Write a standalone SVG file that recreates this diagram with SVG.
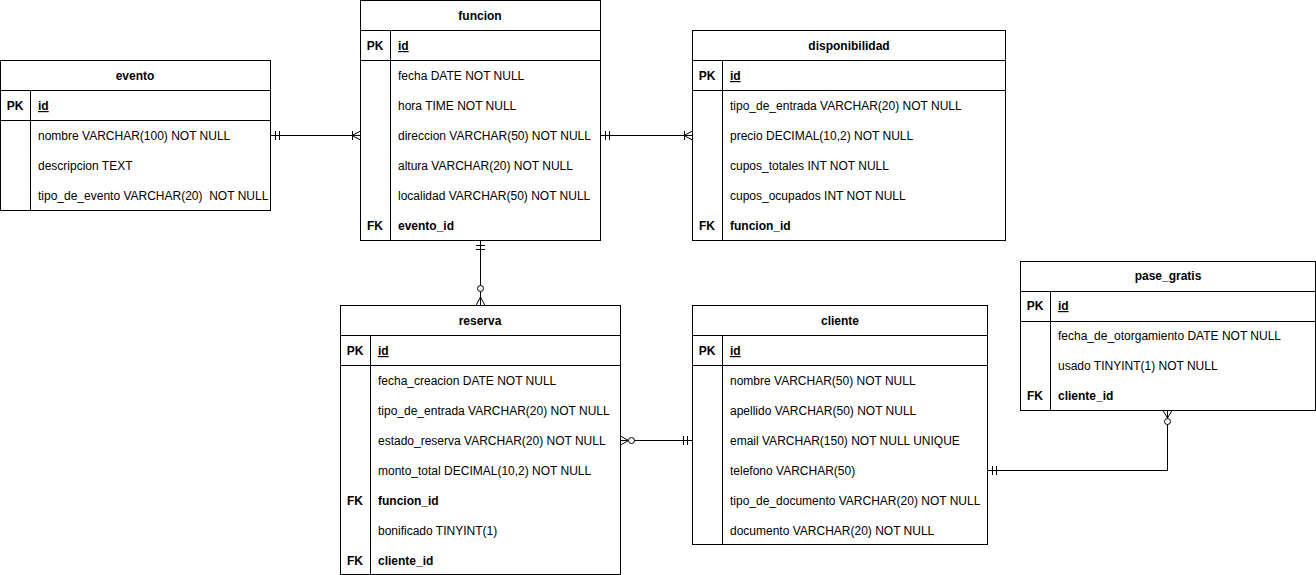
<svg xmlns="http://www.w3.org/2000/svg" width="1316" height="575" viewBox="0 0 1316 575">
<style>
.box{fill:#fff;stroke:#000;stroke-width:1}
.ln{stroke:#000;stroke-width:1;fill:none}
text{font-family:"Liberation Sans",Arial,sans-serif;font-size:12px;fill:#000}
.t{font-weight:bold;text-anchor:middle}
.k{font-weight:bold;text-anchor:middle}
.pk{font-weight:bold;text-decoration:underline}
.fk{font-weight:bold}
.c{stroke:#000;stroke-width:1;fill:none}
.o{stroke:#000;stroke-width:1;fill:#fff}
</style>
<rect width="1316" height="575" fill="#fff"/>

<g id="evento">
<rect class="box" x="0.5" y="60.5" width="270" height="150"/>
<path class="ln" d="M0.5 90.5H270.5M0.5 120.5H270.5M30.5 90.5V210.5"/>
<text class="t" x="135" y="80">evento</text>
<text class="k" x="15" y="110">PK</text>
<text class="pk" x="38" y="110">id</text>
<text x="38" y="140">nombre VARCHAR(100) NOT NULL</text>
<text x="38" y="170">descripcion TEXT</text>
<text x="38" y="200" style="white-space:pre">tipo_de_evento VARCHAR(20)  NOT NULL</text>
</g>

<g id="funcion">
<rect class="box" x="360.5" y="0.5" width="240" height="240"/>
<path class="ln" d="M360.5 30.5H600.5M360.5 60.5H600.5M390.5 30.5V240.5"/>
<text class="t" x="480" y="20">funcion</text>
<text class="k" x="375" y="50">PK</text>
<text class="pk" x="398" y="50">id</text>
<text x="398" y="80">fecha DATE NOT NULL</text>
<text x="398" y="110">hora TIME NOT NULL</text>
<text x="398" y="140">direccion VARCHAR(50) NOT NULL</text>
<text x="398" y="170">altura VARCHAR(20) NOT NULL</text>
<text x="398" y="200">localidad VARCHAR(50) NOT NULL</text>
<text class="k" x="375" y="230">FK</text>
<text class="fk" x="398" y="230">evento_id</text>
</g>

<g id="disponibilidad">
<rect class="box" x="692.5" y="30.5" width="313" height="210"/>
<path class="ln" d="M692.5 60.5H1005.5M692.5 90.5H1005.5M722.5 60.5V240.5"/>
<text class="t" x="849" y="50">disponibilidad</text>
<text class="k" x="707" y="80">PK</text>
<text class="pk" x="730" y="80">id</text>
<text x="730" y="110">tipo_de_entrada VARCHAR(20) NOT NULL</text>
<text x="730" y="140">precio DECIMAL(10,2) NOT NULL</text>
<text x="730" y="170">cupos_totales INT NOT NULL</text>
<text x="730" y="200">cupos_ocupados INT NOT NULL</text>
<text class="k" x="707" y="230">FK</text>
<text class="fk" x="730" y="230">funcion_id</text>
</g>

<g id="reserva">
<rect class="box" x="340.5" y="305.5" width="280" height="269"/>
<path class="ln" d="M340.5 335.5H620.5M340.5 365.5H620.5M370.5 335.5V574.5"/>
<text class="t" x="480" y="325">reserva</text>
<text class="k" x="355" y="355">PK</text>
<text class="pk" x="378" y="355">id</text>
<text x="378" y="385">fecha_creacion DATE NOT NULL</text>
<text x="378" y="415">tipo_de_entrada VARCHAR(20) NOT NULL</text>
<text x="378" y="445">estado_reserva VARCHAR(20) NOT NULL</text>
<text x="378" y="475">monto_total DECIMAL(10,2) NOT NULL</text>
<text class="k" x="355" y="505">FK</text>
<text class="fk" x="378" y="505">funcion_id</text>
<text x="378" y="535">bonificado TINYINT(1)</text>
<text class="k" x="355" y="565">FK</text>
<text class="fk" x="378" y="565">cliente_id</text>
</g>

<g id="cliente">
<rect class="box" x="692.5" y="305.5" width="295" height="239"/>
<path class="ln" d="M692.5 335.5H987.5M692.5 365.5H987.5M722.5 335.5V544.5"/>
<text class="t" x="840" y="325">cliente</text>
<text class="k" x="707" y="355">PK</text>
<text class="pk" x="730" y="355">id</text>
<text x="730" y="385">nombre VARCHAR(50) NOT NULL</text>
<text x="730" y="415">apellido VARCHAR(50) NOT NULL</text>
<text x="730" y="445">email VARCHAR(150) NOT NULL UNIQUE</text>
<text x="730" y="475">telefono VARCHAR(50)</text>
<text x="730" y="505">tipo_de_documento VARCHAR(20) NOT NULL</text>
<text x="730" y="535">documento VARCHAR(20) NOT NULL</text>
</g>

<g id="pase_gratis">
<rect class="box" x="1020.5" y="261.5" width="295" height="149"/>
<path class="ln" d="M1020.5 291.5H1315.5M1020.5 321.5H1315.5M1050.5 291.5V410.5"/>
<text class="t" x="1168" y="280">pase_gratis</text>
<text class="k" x="1035" y="310">PK</text>
<text class="pk" x="1058" y="310">id</text>
<text x="1058" y="340">fecha_de_otorgamiento DATE NOT NULL</text>
<text x="1058" y="370">usado TINYINT(1) NOT NULL</text>
<text class="k" x="1035" y="400">FK</text>
<text class="fk" x="1058" y="400">cliente_id</text>
</g>

<g id="connectors">
<path class="c" d="M270.5 135.5H360.5"/>
<path class="c" d="M275.5 131V140M279.5 131V140"/>
<path class="c" d="M352.5 131V140M352 135.5L360.5 131M352 135.5L360.5 140"/>
<path class="c" d="M600.5 135.5H692.5"/>
<path class="c" d="M605.5 131V140M609.5 131V140"/>
<path class="c" d="M684.5 131V140M684 135.5L692.5 131M684 135.5L692.5 140"/>
<path class="c" d="M480.5 240.5V305.5"/>
<path class="c" d="M476 245.5H485M476 249.5H485"/>
<path class="c" d="M480.5 297L476 305.5M480.5 297L485 305.5"/>
<circle class="o" cx="480.5" cy="288.5" r="3"/>
<path class="c" d="M620.5 440.5H692.5"/>
<path class="c" d="M628.5 440.5L620.5 436M628.5 440.5L620.5 445"/>
<circle class="o" cx="631.5" cy="440.5" r="3"/>
<path class="c" d="M683.5 436V445M687.5 436V445"/>
<path class="c" d="M987.5 470.5H1167.5V410.5"/>
<path class="c" d="M992.5 466V475M996.5 466V475"/>
<path class="c" d="M1167.5 418L1163 410.5M1167.5 418L1172 410.5"/>
<circle class="o" cx="1167.5" cy="421.5" r="3"/>
</g>
</svg>
